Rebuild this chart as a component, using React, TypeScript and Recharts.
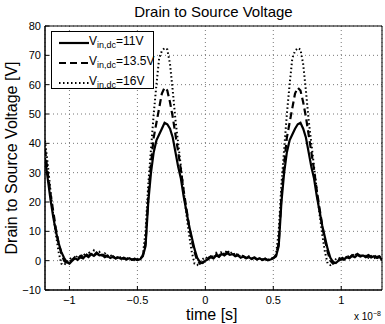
import { LineChart, Line, XAxis, YAxis, CartesianGrid, Legend, ReferenceArea } from "recharts"

// time axis, in units of 1e-8 s
const time = [
  -1.18, -1.16, -1.14, -1.12, -1.1, -1.08, -1.06, -1.04, -1.02, -1.0,
  -0.98, -0.96, -0.94, -0.92, -0.9, -0.88, -0.86, -0.84, -0.82, -0.8,
  -0.78, -0.76, -0.74, -0.72, -0.7, -0.68, -0.66, -0.64, -0.62, -0.6,
  -0.58, -0.56, -0.54, -0.52, -0.5, -0.48, -0.46, -0.44, -0.42, -0.4,
  -0.38, -0.36, -0.34, -0.32, -0.3, -0.28, -0.26, -0.24, -0.22, -0.2,
  -0.18, -0.16, -0.14, -0.12, -0.1, -0.08, -0.06, -0.04, -0.02, 0.0,
  0.02, 0.04, 0.06, 0.08, 0.1, 0.12, 0.14, 0.16, 0.18, 0.2,
  0.22, 0.24, 0.26, 0.28, 0.3, 0.32, 0.34, 0.36, 0.38, 0.4,
  0.42, 0.44, 0.46, 0.48, 0.5, 0.52, 0.54, 0.56, 0.58, 0.6,
  0.62, 0.64, 0.66, 0.68, 0.7, 0.72, 0.74, 0.76, 0.78, 0.8,
  0.82, 0.84, 0.86, 0.88, 0.9, 0.92, 0.94, 0.96, 0.98, 1.0,
  1.02, 1.04, 1.06, 1.08, 1.1, 1.12, 1.14, 1.16, 1.18, 1.2,
  1.22, 1.24, 1.26, 1.28, 1.3,
]

const v11 = [
  35, 28, 21, 15, 10, 6, 3, 1, -0.5, -1,
  0, 0.8, 0.3, 1.2, 0.8, 1.8, 1.2, 2.2, 1.6, 2.4,
  1.8, 2.0, 1.2, 1.6, 0.9, 1.3, 0.7, 1.1, 0.6, 0.9,
  0.4, 0.8, 0.3, 0.6, 0.2, 0.5, 1.5, 5, 20, 30,
  37, 41, 43, 45, 47, 46.5, 45, 42, 37, 32,
  28, 22, 17, 12, 8, 4, 1, -0.5, -0.8, 0,
  0.5, 1.2, 0.8, 1.8, 1.3, 2.3, 1.8, 2.5, 2.0, 2.2,
  1.5, 1.8, 1.0, 1.4, 0.8, 1.2, 0.6, 1.0, 0.4, 0.8,
  0.2, 0.6, 0.1, 0.4, 0.8, 1.5, 5, 20, 30, 37,
  41, 43, 45, 46.5, 47, 45, 42, 37, 32, 28,
  22, 17, 12, 8, 4, 1, -0.5, -0.8, 0, 0.5,
  0.3, 1.2, 0.8, 1.6, 1.2, 2.0, 1.4, 1.8, 1.2, 1.6,
  1.1, 1.5, 1.0, 1.3, 0.3,
]

const v135 = [
  38, 30, 23, 17, 11, 6, 2.5, 0, -1, -0.5,
  0.3, 1.2, 0.6, 1.6, 1.0, 2.2, 1.5, 2.6, 1.8, 2.8,
  2.0, 2.3, 1.5, 1.8, 1.1, 1.5, 0.8, 1.2, 0.6, 1.0,
  0.5, 0.9, 0.3, 0.7, 0.2, 0.6, 1.8, 6, 22, 33,
  42, 47, 52, 57, 59, 58, 54, 49, 43, 37,
  31, 24, 18, 12, 7, 3, 0, -1, -0.6, 0.3,
  0.8, 1.5, 1.0, 2.1, 1.5, 2.6, 2.0, 2.9, 2.2, 2.5,
  1.7, 2.0, 1.2, 1.5, 0.9, 1.3, 0.7, 1.1, 0.5, 0.9,
  0.3, 0.7, 0.2, 0.5, 0.9, 1.8, 6, 22, 33, 42,
  47, 52, 57, 59, 58, 54, 49, 43, 37, 31,
  24, 18, 12, 7, 3, 0, -1, -0.6, 0.3, 0.8,
  0.6, 1.5, 1.0, 1.9, 1.3, 2.3, 1.6, 2.1, 1.4, 1.9,
  1.3, 1.8, 1.2, 1.5, 0.6,
]

const v16 = [
  41, 33, 24, 16, 9, 3, -1, -1.5, -0.5, 0.5,
  1.0, 0.5, 1.8, 1.0, 2.5, 1.6, 3.0, 2.0, 3.5, 2.4,
  3.0, 1.8, 2.5, 1.4, 2.0, 1.0, 1.6, 0.8, 1.3, 0.6,
  1.0, 0.4, 0.8, 0.2, 0.6, 0.3, 2, 10, 26, 38,
  50, 60, 69, 71.5, 72.5, 72, 67, 58, 48, 40,
  32, 24, 16, 9, 3, -1, -1.5, -0.5, 0.5, 1.2,
  0.6, 1.8, 1.0, 2.6, 1.6, 3.2, 2.2, 3.6, 2.4, 3.0,
  1.8, 2.4, 1.2, 1.8, 0.9, 1.5, 0.6, 1.2, 0.4, 0.9,
  0.2, 0.7, 0.3, 0.6, 1.0, 2, 10, 26, 38, 50,
  60, 69, 71.5, 72.5, 72, 67, 58, 48, 40, 32,
  24, 16, 9, 3, -1, -1.5, -0.5, 0.5, 1.0, 0.6,
  1.5, 0.8, 2.0, 1.2, 2.6, 1.5, 2.2, 1.3, 1.8, 1.0,
  1.6, 0.8, 1.3, 0.5, 0.2,
]

const xTicks = [-1, -0.5, 0, 0.5, 1]
const yTicks = [-10, 0, 10, 20, 30, 40, 50, 60, 70, 80]

const series = [
  { key: "v11", label: "=11V", dash: undefined, width: 2.2 },
  { key: "v135", label: "=13.5V", dash: "7 4", width: 2.2 },
  { key: "v16", label: "=16V", dash: "1.5 2.5", width: 2 },
]

const data = time.map((t, i) => ({ t, v11: v11[i], v135: v135[i], v16: v16[i] }))

const font = "'Liberation Sans', Arial, sans-serif"
const fmt = (v: number) => String(v).replace("-", "\u2212")

function LegendBox() {
  return (
    <div
      style={{
        position: "absolute",
        left: 51,
        top: 31,
        width: 101,
        height: 56,
        border: "1px solid #000",
        background: "#fff",
        fontFamily: font,
        fontSize: 12,
      }}
    >
      {series.map((s, i) => (
        <div key={s.key} style={{ position: "absolute", left: 0, top: 4 + i * 20, height: 16, width: 101 }}>
          <svg width={34} height={16} style={{ position: "absolute", left: 5, top: 0 }}>
            <line x1={2} x2={32} y1={7} y2={7} stroke="#000" strokeWidth={s.width} strokeDasharray={s.dash} />
          </svg>
          <span style={{ position: "absolute", left: 37, top: -2, whiteSpace: "nowrap" }}>
            V<sub style={{ fontSize: 9 }}>in,dc</sub>
            {s.label}
          </span>
        </div>
      ))}
    </div>
  )
}

export default function App() {
  return (
    <div style={{ position: "absolute", left: 0, top: 0, width: 385, height: 324, background: "#fff", fontFamily: font }}>
      <LineChart width={385} height={324} data={data} margin={{ top: 26, right: 3, bottom: 14, left: 0 }}>
        <CartesianGrid stroke="#777" strokeDasharray="1 3" />
        <XAxis
          dataKey="t"
          type="number"
          domain={[-1.18, 1.3]}
          ticks={xTicks}
          allowDataOverflow
          tickFormatter={fmt}
          height={20}
          tickSize={-4}
          tickMargin={10}
          stroke="#000"
          tick={{ fill: "#000", fontSize: 11, fontFamily: font }}
        />
        <YAxis
          domain={[-10, 80]}
          ticks={yTicks}
          tickFormatter={fmt}
          width={45}
          tickSize={-4}
          tickMargin={8}
          stroke="#000"
          tick={{ fill: "#000", fontSize: 11, fontFamily: font }}
          label={{
            value: "Drain to Source Voltage [V]",
            angle: -90,
            position: "insideLeft",
            offset: 0,
            dx: 11,
            style: { textAnchor: "middle", fontSize: 16, fill: "#000", fontFamily: font },
          }}
        />
        <ReferenceArea x1={-1.18} x2={1.3} y1={-10} y2={80} fill="none" stroke="#000" strokeWidth={1} ifOverflow="visible" />
        {series.map((s) => (
          <Line
            key={s.key}
            dataKey={s.key}
            type="linear"
            stroke="#000"
            strokeWidth={s.width}
            strokeDasharray={s.dash}
            dot={false}
            isAnimationActive={false}
          />
        ))}
        <Legend content={() => <LegendBox />} wrapperStyle={{ position: "absolute", left: 0, top: 0 }} />
      </LineChart>
      <div style={{ position: "absolute", left: 0, width: 385, top: 3, textAlign: "center", fontSize: 15, paddingLeft: 42, boxSizing: "border-box" }}>
        Drain to Source Voltage
      </div>
      <div style={{ position: "absolute", left: 186, top: 306, fontSize: 16 }}>time [s]</div>
      <div style={{ position: "absolute", left: 354, top: 310, fontSize: 10 }}>
        x 10<sup style={{ fontSize: 7 }}>{"\u22128"}</sup>
      </div>
    </div>
  )
}
